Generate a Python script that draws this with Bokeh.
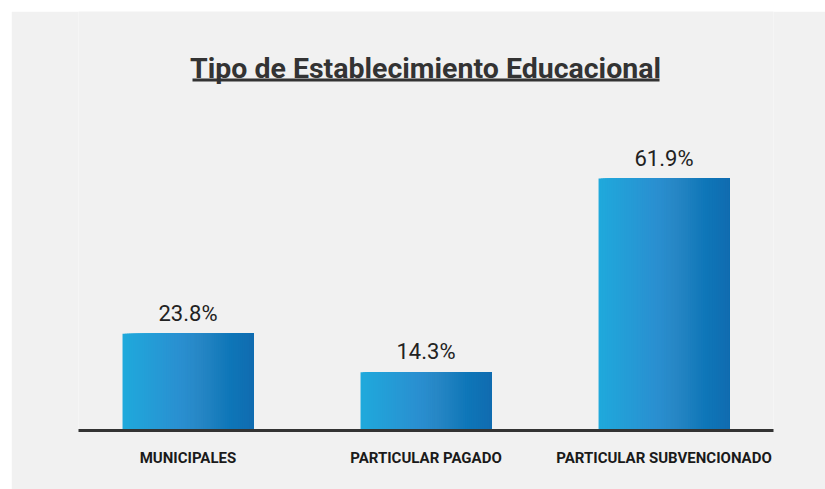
from bokeh.plotting import figure
from bokeh.models import Range1d, FixedTicker, Label, BoxAnnotation, ColumnDataSource
from bokeh.core.properties import value
from bokeh.embed import file_html
from bokeh.resources import INLINE

# ---- data ----
categories = ["MUNICIPALES", "PARTICULAR PAGADO", "PARTICULAR SUBVENCIONADO"]
percentages = [23.8, 14.3, 61.9]
value_labels = ["23.8%", "14.3%", "61.9%"]
title_text = "Tipo de Establecimiento Educacional"

# ---- style ----
BG = "#f1f1f1"
DARK = "#333333"
FONT = "Roboto"
bar_width = 0.55
n_strips = 60
stops = [(0.0, (31, 169, 220)), (0.45, (42, 143, 208)), (0.6, (38, 134, 196)),
         (0.82, (14, 118, 184)), (1.0, (17, 108, 176))]


def grad(t):
    for (t0, c0), (t1, c1) in zip(stops[:-1], stops[1:]):
        if t <= t1:
            f = (t - t0) / (t1 - t0)
            return "#%02x%02x%02x" % tuple(int(round(a + (b - a) * f)) for a, b in zip(c0, c1))
    return "#%02x%02x%02x" % stops[-1][1]


xs = list(range(len(categories)))

p = figure(width=814, height=478, output_backend="svg", toolbar_location=None,
           x_range=Range1d(-0.46, 2.46), y_range=Range1d(0, max(percentages) * 1.663),
           min_border_left=67, min_border_right=52, min_border_top=0, min_border_bottom=59,
           background_fill_color=BG, border_fill_color=BG, outline_line_color=None)
p.margin = (11, 0, 0, 11)

# gradient bars: overlapping strips drawn left to right (each reaches the bar's right edge)
sx, sw, stop_, sc = [], [], [], []
step = bar_width / n_strips
for x, v in zip(xs, percentages):
    right = x + bar_width / 2
    for i in range(n_strips):
        left = x - bar_width / 2 + step * i
        sx.append((left + right) / 2)
        sw.append(right - left)
        stop_.append(v)
        sc.append(grad((i + 0.5) / n_strips))
p.vbar(x=sx, top=stop_, bottom=0, width=sw, fill_color=sc, line_color=None)

# value labels
src = ColumnDataSource(dict(x=xs, y=percentages, t=value_labels))
p.text(x="x", y="y", text="t", source=src, text_align="center", text_baseline="bottom",
       y_offset=-8, text_font=value(FONT), text_font_size="22px", text_color="#222222")

# axes
p.yaxis.visible = False
p.xgrid.visible = False
p.ygrid.visible = False
xa = p.xaxis[0]
xa.ticker = FixedTicker(ticks=xs)
xa.major_label_overrides = {x: c for x, c in zip(xs, categories)}
xa.major_tick_line_color = None
xa.minor_tick_line_color = None
xa.axis_line_color = DARK
xa.axis_line_width = 3
xa.major_label_standoff = 12
xa.major_label_text_font = FONT
xa.major_label_text_font_style = "bold"
xa.major_label_text_font_size = "15px"
xa.major_label_text_color = "#1a1a1a"

# title with underline
p.add_layout(Label(x=414, y=57, x_units="canvas", y_units="canvas", text=title_text,
                   text_align="center", text_baseline="alphabetic", text_font=FONT,
                   text_font_style="bold", text_font_size="28.5px", text_color=DARK))
p.add_layout(BoxAnnotation(left=181, right=648, top=67, bottom=70,
                           left_units="canvas", right_units="canvas",
                           top_units="canvas", bottom_units="canvas",
                           fill_color=DARK, fill_alpha=1, line_color=None))

open("out.html", "w").write(file_html(p, INLINE))
